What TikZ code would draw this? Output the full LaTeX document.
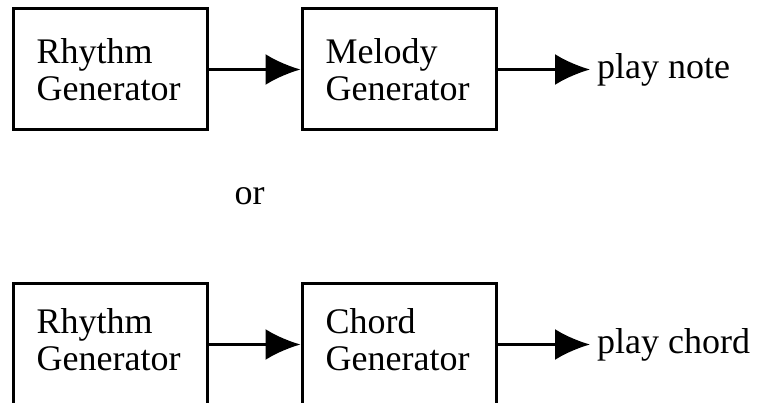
\documentclass[tikz,border=0pt]{standalone}
\usepackage{fontspec}
\setmainfont{Liberation Serif}
\usetikzlibrary{arrows.meta}
\begin{document}
\begin{tikzpicture}[x=1pt,y=1pt,
  box/.style={draw, line width=3pt, minimum width=194pt, minimum height=121pt, inner sep=0pt},
  lbl/.style={align=left, anchor=west, inner sep=0pt, font=\fontsize{36}{37}\selectfont},
  outlbl/.style={anchor=west, inner xsep=7pt, inner ysep=0pt, font=\fontsize{36}{37}\selectfont},
  conn/.style={line width=3pt, -{Latex[length=35pt,width=31pt]}}]
\useasboundingbox (0,0) rectangle (758,402);
% top row
\node[box] (b1) at (110,332.5) {};
\node[box] (b2) at (399,332.5) {};
\node[lbl] (t1) at ([xshift=25pt]b1.west) {Rhythm\\Generator};
\node[lbl] (t2) at ([xshift=25pt]b2.west) {Melody\\Generator};
\node[outlbl] (o1) at (590,332.5) {play note};
\draw[conn] (b1.east) -- (b2.west);
\draw[conn] (b2.east) -- (o1.west);
% or
\node[inner sep=0pt, anchor=base, font=\fontsize{36}{37}\selectfont] (or) at (249.5,197) {or};
% bottom row
\node[box] (b3) at (110,57.5) {};
\node[box] (b4) at (399,57.5) {};
\node[lbl] (t3) at ([xshift=25pt,yshift=5pt]b3.west) {Rhythm\\Generator};
\node[lbl] (t4) at ([xshift=25pt,yshift=5pt]b4.west) {Chord\\Generator};
\node[outlbl] (o2) at (590,57.5) {play chord};
\draw[conn] (b3.east) -- (b4.west);
\draw[conn] (b4.east) -- (o2.west);
\end{tikzpicture}
\end{document}
